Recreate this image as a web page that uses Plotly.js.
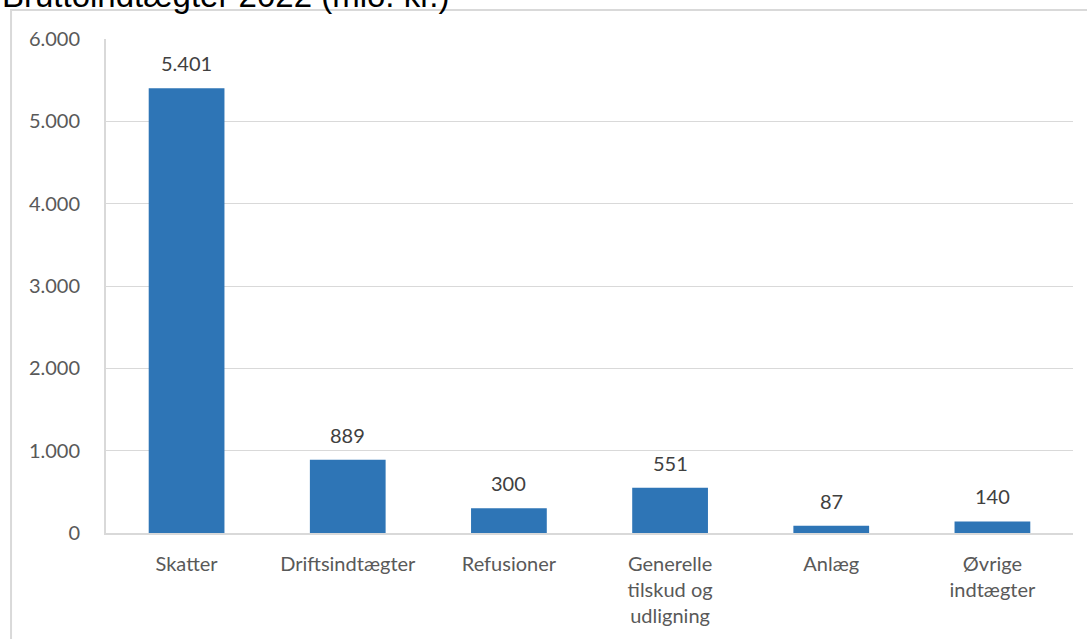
<!DOCTYPE html>
<html>
<head>
<meta charset="utf-8">
<script src="https://cdn.plot.ly/plotly-3.0.1.min.js"></script>
<style>html,body{margin:0;padding:0;background:#fff;}#chart{width:1087px;height:639px;}</style>
</head>
<body>
<div id="chart"></div>
<script>
const categories = ["Skatter", "Driftsindtægter", "Refusioner", "Generelle tilskud og udligning", "Anlæg", "Øvrige indtægter"];
const tickLabels = ["Skatter", "Driftsindtægter", "Refusioner", "Generelle<br>tilskud og<br>udligning", "Anlæg", "Øvrige<br>indtægter"];
const values = [5401, 889, 300, 551, 87, 140];
const yTicks = [0, 1000, 2000, 3000, 4000, 5000, 6000];
const titleText = "Bruttoindtægter 2022 (mio. kr.)";

const fmt = v => v.toLocaleString('de-DE');

const trace = {
  type: 'bar',
  x: categories,
  y: values,
  marker: {color: '#2E75B6'},
  hoverinfo: 'skip'
};

const annotations = categories.map((c, i) => ({
  x: c, y: values[i], xref: 'x', yref: 'y',
  text: fmt(values[i]), showarrow: false,
  yanchor: 'middle', yshift: 25,
  font: {family: 'Lato, sans-serif', size: 20, color: '#404040'}
}));

annotations.push({
  text: titleText, xref: 'paper', yref: 'paper',
  x: -0.1096, xanchor: 'left', y: 1.088, yanchor: 'middle',
  showarrow: false, align: 'left',
  font: {family: 'Arial, Liberation Sans, sans-serif', size: 33, color: '#000000'}
});

const layout = {
  width: 1087, height: 639,
  margin: {l: 106, r: 14, t: 39, b: 106},
  paper_bgcolor: '#ffffff', plot_bgcolor: '#ffffff',
  separators: ',.',
  showlegend: false,
  bargap: 0.53,
  xaxis: {
    type: 'category',
    tickmode: 'array', tickvals: categories, ticktext: tickLabels,
    showgrid: false, showline: true, linecolor: '#d9d9d9', linewidth: 2,
    ticks: '', ticklabelstandoff: 12,
    tickfont: {family: 'Lato, sans-serif', size: 20, color: '#595959'},
    fixedrange: true
  },
  yaxis: {
    range: [0, 6000],
    tickmode: 'array', tickvals: yTicks, ticktext: yTicks.map(fmt),
    showgrid: true, gridcolor: '#d9d9d9', gridwidth: 1,
    zeroline: false,
    showline: true, linecolor: '#d9d9d9', linewidth: 2,
    ticks: '', ticklabelstandoff: 20,
    tickfont: {family: 'Lato, sans-serif', size: 20, color: '#595959'},
    fixedrange: true
  },
  annotations: annotations,
  shapes: [{
    type: 'rect', xref: 'paper', yref: 'paper',
    x0: -0.0982, x1: 1.03, y0: -0.25, y1: 1.0587,
    line: {color: '#d9d9d9', width: 2}, fillcolor: 'rgba(0,0,0,0)', layer: 'below'
  }]
};

Plotly.newPlot('chart', [trace], layout, {displayModeBar: false, staticPlot: true});
</script>
</body>
</html>
